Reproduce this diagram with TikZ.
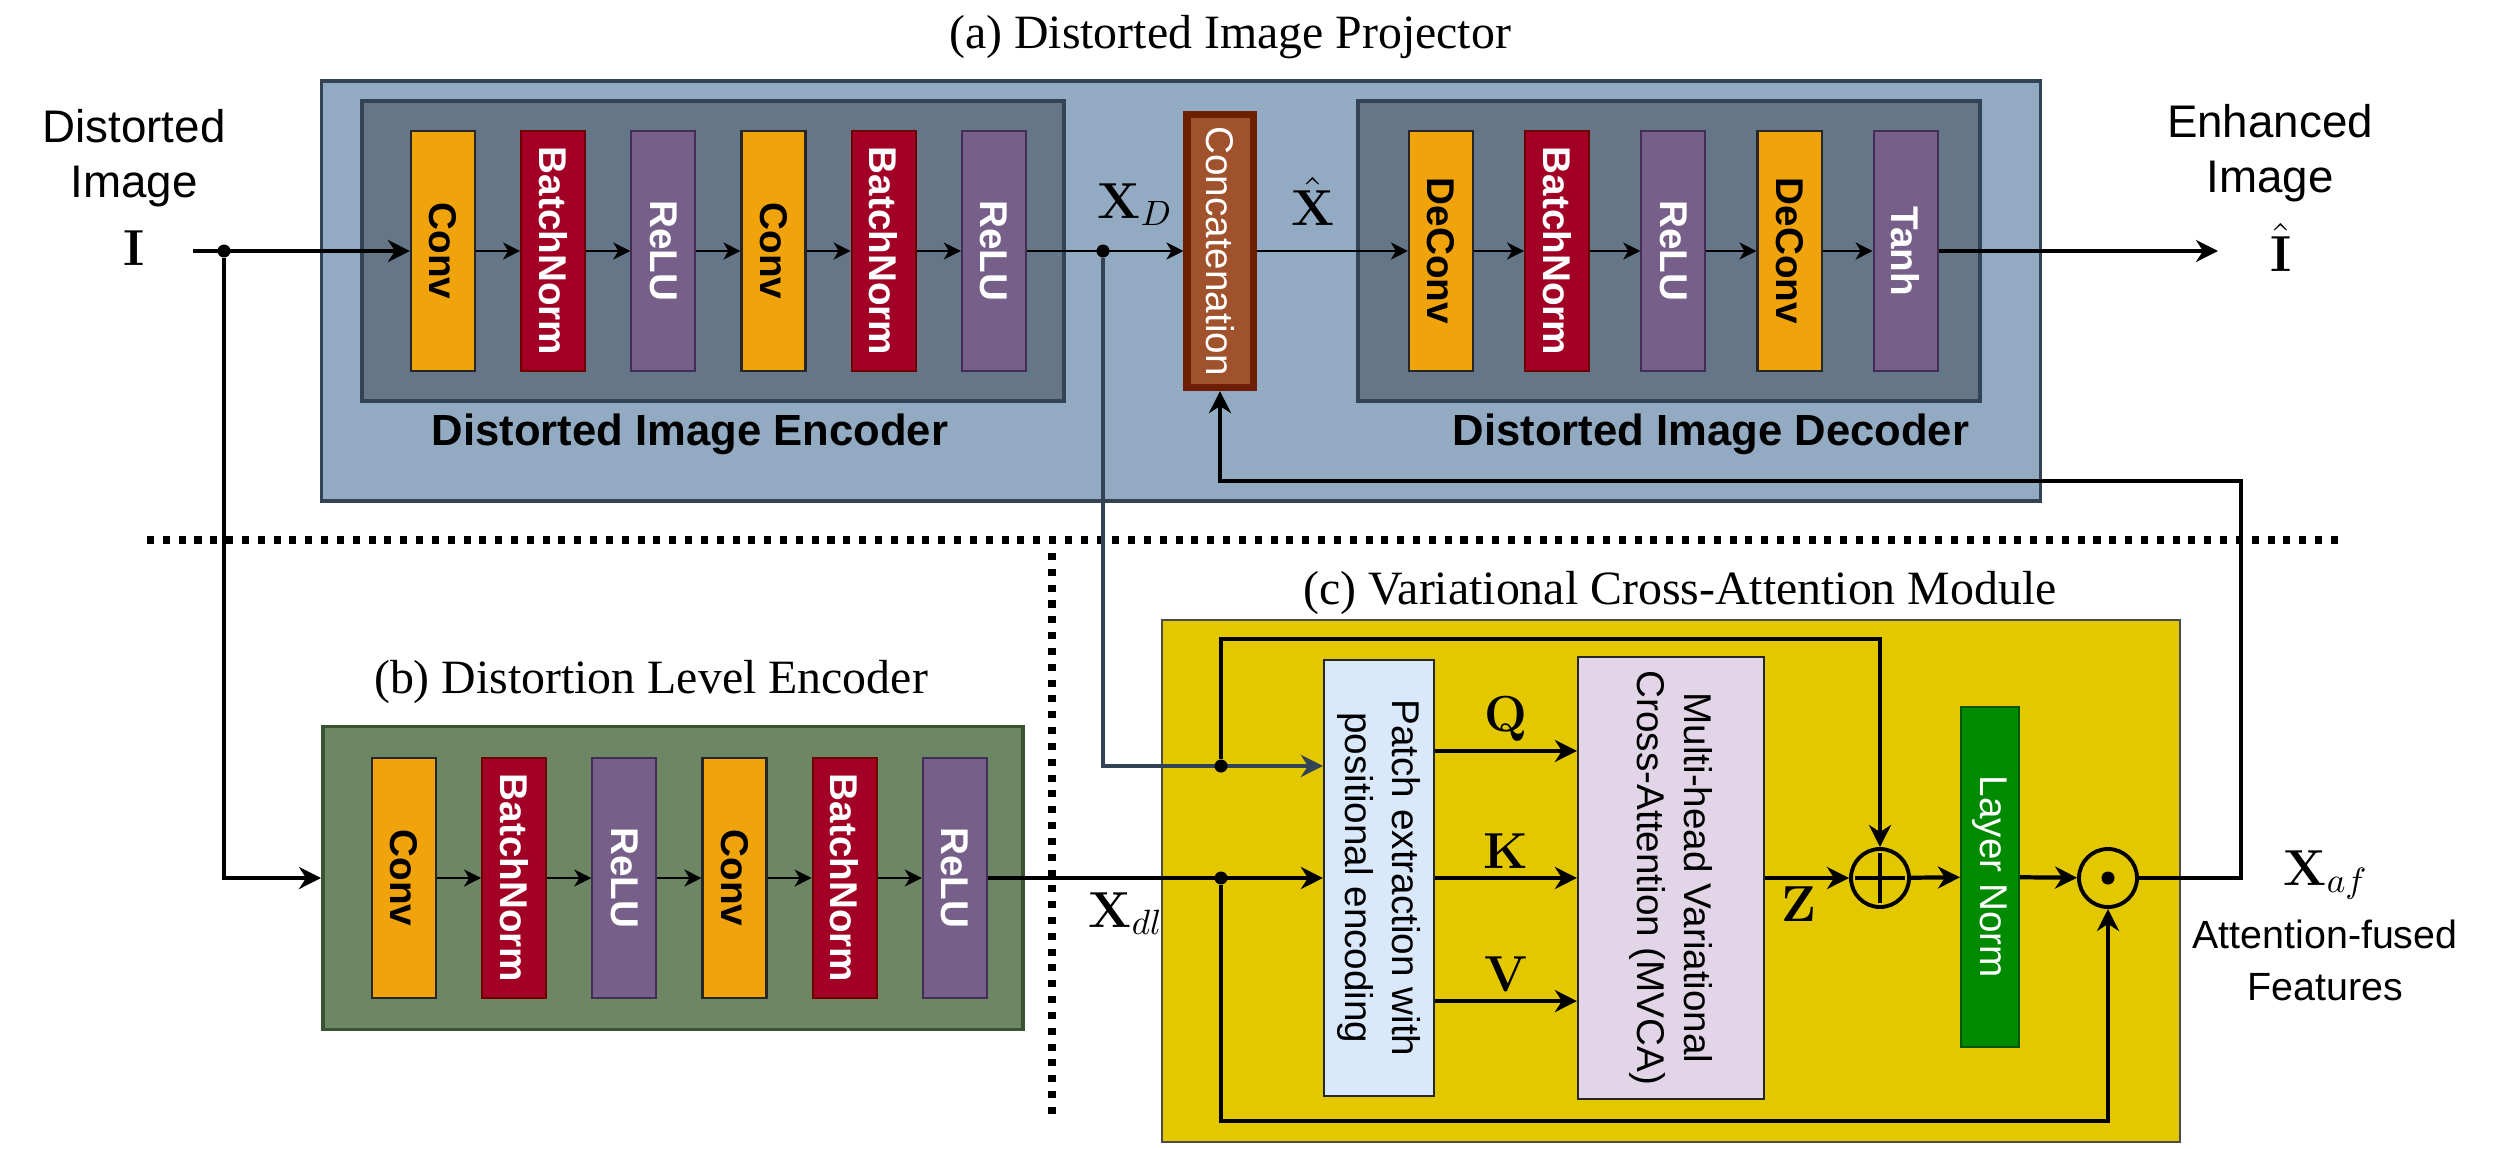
\documentclass[tikz,border=0pt]{standalone}
\usepackage[no-math]{fontspec}
\setmainfont{Liberation Serif}
\newfontfamily\arial{Liberation Sans}
\usepackage{amsmath}
\usetikzlibrary{positioning}
\usetikzlibrary{arrows.meta}
\definecolor{projfill}{HTML}{92AAC2}
\definecolor{slateline}{HTML}{314354}
\definecolor{slatefill}{HTML}{647687}
\definecolor{convfill}{HTML}{F0A30A}
\definecolor{bnfill}{HTML}{A20025}
\definecolor{bnline}{HTML}{6F0000}
\definecolor{relufill}{HTML}{76608A}
\definecolor{reluline}{HTML}{432D57}
\definecolor{catfill}{HTML}{A0522D}
\definecolor{catline}{HTML}{6D1F00}
\definecolor{olivefill}{HTML}{6D8764}
\definecolor{oliveline}{HTML}{3A5431}
\definecolor{yellowfill}{HTML}{E3C800}
\definecolor{patchfill}{HTML}{DAE8FC}
\definecolor{mvcafill}{HTML}{E1D5E7}
\definecolor{lnfill}{HTML}{008A00}
\definecolor{lnline}{HTML}{005700}
\tikzset{
>={Stealth[length=2.2mm,width=2.2mm,inset=0.7mm]}, % drawio like tips
thick line/.style={line width=1.2pt},
thin arrow/.style={line width=0.7pt,-{Stealth[length=1.7mm,width=1.7mm,inset=0.5mm]}},
slate arrow/.style={draw=slateline,line width=1.1pt,->},
sep line/.style={line width=2pt,dash pattern=on 2pt off 2.5pt},
dot/.style={circle,fill,inner sep=0pt,minimum size=0.13cm},
title/.style={font=\fontsize{13.6}{16}\selectfont,inner sep=0pt},
part label/.style={font=\arial\bfseries\fontsize{12.4}{15}\selectfont,inner sep=0pt},
in label/.style={font=\arial\fontsize{13}{15.6}\selectfont,align=center,inner sep=0pt},
out label/.style={font=\arial\fontsize{11.2}{14.8}\selectfont,align=center,inner sep=0pt},
mlab/.style={font=\fontsize{13.7}{16}\selectfont,inner sep=2pt},
blk text/.style={font=\arial\bfseries\fontsize{11}{13}\selectfont,rotate=-90},
box text/.style={font=\arial\fontsize{11}{13.4}\selectfont,rotate=-90,align=center},
my block/.style={draw,line width=0.6pt,minimum width=0.64cm,minimum height=2.4cm,inner sep=0pt},
conv/.style={my block,fill=convfill,draw=black!85,label={[blk text,text=black]center:#1}},
bn/.style={my block,fill=bnfill,draw=bnline,label={[blk text,text=white]center:#1}},
relu/.style={my block,fill=relufill,draw=reluline,label={[blk text,text=white]center:#1}},
concat/.style={draw=catline,fill=catfill,line width=2pt,minimum width=0.66cm,minimum height=2.73cm,
  label={[box text,text=white]center:Concatenation}},
proj box/.style={draw=slateline,fill=projfill,line width=1.1pt},
inner box/.style={draw=slateline,fill=slatefill,line width=1.1pt},
olive box/.style={draw=oliveline,fill=olivefill,line width=1pt},
yellow box/.style={draw=black!70,fill=yellowfill,line width=0.5pt},
patch/.style={draw=black!85,fill=patchfill,line width=0.6pt,minimum width=1.1cm,minimum height=4.36cm,
  label={[box text]center:{Patch extraction with\\positional encoding}}},
mvca/.style={draw=black!85,fill=mvcafill,line width=0.6pt,minimum width=1.86cm,minimum height=4.41cm,
  label={[box text]center:{Multi-head Variational\\Cross-Attention (MVCA)}}},
lnorm/.style={draw=lnline,fill=lnfill,line width=0.6pt,minimum width=0.58cm,minimum height=3.4cm,
  label={[box text,text=white]center:Layer Norm}},
op/.style={circle,draw,line width=1.1pt,minimum size=0.58cm,inner sep=0pt}
}
\begin{document}
\begin{tikzpicture}[x=0.01cm,y=-0.01cm,node distance=0.44cm]
\useasboundingbox (0,0) rectangle (2503,1148);
% (a) projector
\node[proj box,minimum width=17.18cm,minimum height=4.2cm] (proj) at (1181,291) {};
\node[inner box,minimum width=7.02cm,minimum height=3cm] (enc) at (713,251) {};
\node[inner box,minimum width=6.21cm,minimum height=3cm] (dec) at (1669,251) {};
\node[title,anchor=base] (ttla) at (1230,48) {(a) Distorted Image Projector};
\node[part label,anchor=base] (enclab) at (690,445) {Distorted Image Encoder};
\node[part label,anchor=base] (declab) at (1711,445) {Distorted Image Decoder};
\node[conv=Conv]     (e1) at (443,251) {};
\node[bn=BatchNorm]  (e2) [right=of e1] {};
\node[relu=ReLU]     (e3) [right=of e2] {};
\node[conv=Conv]     (e4) [right=of e3] {};
\node[bn=BatchNorm]  (e5) [right=of e4] {};
\node[relu=ReLU]     (e6) [right=of e5] {};
\node[concat]        (cat) at (1220,251) {};
\node[conv=DeConv]   (d1) at (1441,251) {};
\node[bn=BatchNorm]  (d2) [right=0.5cm of d1] {};
\node[relu=ReLU]     (d3) [right=0.5cm of d2] {};
\node[conv=DeConv]   (d4) [right=0.5cm of d3] {};
\node[relu=Tanh]     (d5) [right=0.5cm of d4] {};
% (b) distortion level encoder
\node[title,anchor=base] (ttlb) at (651,693) {(b) Distortion Level Encoder};
\node[olive box,minimum width=7cm,minimum height=3.03cm] (dle) at (673,878) {};
\node[conv=Conv]     (g1) at (404,878) {};
\node[bn=BatchNorm]  (g2) [right=of g1] {};
\node[relu=ReLU]     (g3) [right=of g2] {};
\node[conv=Conv]     (g4) [right=of g3] {};
\node[bn=BatchNorm]  (g5) [right=of g4] {};
\node[relu=ReLU]     (g6) [right=of g5] {};
% (c) cross-attention
\node[title,anchor=base] (ttlc) at (1680,604) {(c) Variational Cross-Attention Module};
\node[yellow box,minimum width=10.17cm,minimum height=5.22cm] (vca) at (1671,881) {};
\node[patch] (patch) at (1379,878) {};
\node[mvca]  (mvca) at (1671,878) {};
\node[op]    (oplus) at (1880,878) {};
\node[lnorm] (ln) at (1990,877) {};
\node[op]    (odot) at (2108,878) {};
% outside labels
\node[in label] (dimg) at (134,158) {Distorted\\Image};
\node[mlab,anchor=base] (I) at (134,265) {$\mathbf{I}$};
\node[in label] (eimg) at (2270,153) {Enhanced\\Image};
\node[mlab,anchor=base] (Ihat) at (2281,271) {$\hat{\mathbf{I}}$};
\node[mlab,anchor=base west] (xd) at (1090,218) {$\mathbf{X}_D$};
\node[mlab,anchor=base] (xhat) at (1313,225) {$\hat{\mathbf{X}}$};
\node[mlab,anchor=base west] (xdl) at (1081,927) {$\mathbf{X}_{dl}$};
\node[mlab,anchor=base west] (xaf) at (2276,885) {$\mathbf{X}_{af}$};
\node[out label] (afeat) at (2325,960) {Attention-fused\\Features};
\coordinate (iin) at (193,251);
\coordinate (iout) at (2218,251);
\coordinate (fb) at (2241,481);
\coordinate (sepL) at (147,540);
\coordinate (sepR) at (2339,540);
\coordinate (sepT) at (1052,553);
\coordinate (sepB) at (1052,1114);
\draw[sep line] (sepL) -- (sepR);
\draw[sep line] (sepT) -- (sepB);
\node[dot] (jI) at (224,251) {};
\node[dot] (jD) at (1103,251) {};
\node[dot] (jK) at (1221,878) {};
\draw[thick line,->] (iin) -- (e1);
\draw[thin arrow] (e1) -- (e2);
\draw[thin arrow] (e2) -- (e3);
\draw[thin arrow] (e3) -- (e4);
\draw[thin arrow] (e4) -- (e5);
\draw[thin arrow] (e5) -- (e6);
\draw[thin arrow] (e6) -- (cat);
\draw[thin arrow] (cat) -- (d1);
\draw[thin arrow] (d1) -- (d2);
\draw[thin arrow] (d2) -- (d3);
\draw[thin arrow] (d3) -- (d4);
\draw[thin arrow] (d4) -- (d5);
\draw[thick line,->] (d5) -- (iout);
\draw[thick line,->] (jI) |- (dle.west);
\draw[thin arrow] (g1) -- (g2);
\draw[thin arrow] (g2) -- (g3);
\draw[thin arrow] (g3) -- (g4);
\draw[thin arrow] (g4) -- (g5);
\draw[thin arrow] (g5) -- (g6);
\draw[thick line,->] (g6) -- (patch);
\draw[slate arrow] (jD) |- ([yshift=1.12cm]patch.west);
\node[dot] (jQ) at (1221,766) {};
\draw[thick line,->] (jQ) -- ++(0,-127) -| (oplus.north);
\draw[thick line,->] (jK) -- ++(0,243) -| (odot.south);
\draw[thick line,->] ([yshift=1.27cm]patch.east) -- ([yshift=1.27cm]patch.east -| mvca.west)
  node[mlab,midway,above] {$\mathbf{Q}$};
\draw[thick line,->] (patch) -- (mvca) node[mlab,midway,above] {$\mathbf{K}$};
\draw[thick line,->] ([yshift=-1.23cm]patch.east) -- ([yshift=-1.23cm]patch.east -| mvca.west)
  node[mlab,midway,above] {$\mathbf{V}$};
\draw[thick line,->] (mvca) -- (oplus) node[mlab,pos=0.4,below] {$\mathbf{Z}$};
\draw[thick line] ([yshift=-0.06cm]oplus.north) -- ([yshift=0.06cm]oplus.south)
  ([xshift=0.06cm]oplus.west) -- ([xshift=-0.06cm]oplus.east);
\fill (odot) circle (0.065cm);
\draw[thick line,->] (oplus) -- (ln);
\draw[thick line,->] (ln) -- (odot);
\draw[thick line,->] (odot) -| (fb) -| (cat.south);
\end{tikzpicture}
\end{document}
